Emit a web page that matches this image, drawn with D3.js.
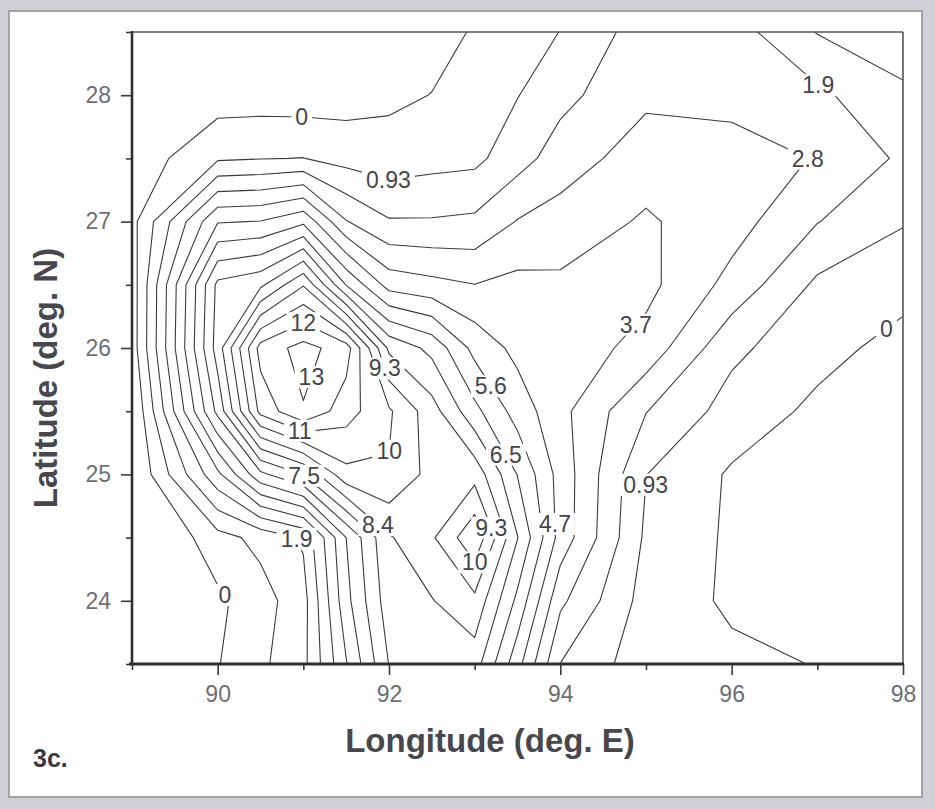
<!DOCTYPE html>
<html>
<head>
<meta charset="utf-8">
<script src="https://cdn.jsdelivr.net/npm/d3@7"></script>
<style>
  html, body { margin: 0; padding: 0; background: #fff; }
  svg { display: block; font-family: "Liberation Sans", Arial, Helvetica, sans-serif; }
</style>
</head>
<body>
<svg id="chart" width="935" height="809"></svg>
<script>
// Grid node positions (finer columns across the two maxima)
const lons = [89, 90, 90.5, 91, 91.5, 92, 92.5, 93, 93.5, 94, 95, 96, 97, 98];
const lats = [28.5, 28, 27.5, 27, 26.5, 26, 25.5, 25, 24.5, 24, 23.5];

// Gridded field, one row per latitude (north to south), one value per longitude
const lat28_5 = [-1.5, -1.4, -1.3, -1.2, -1.0, -0.8, -0.35, 0.08, 0.5, 0.95, 2.35, 2.29, 0.89, 0.5];
const lat28_0 = [-1.0, -0.46, -0.45, -0.5, -0.4, -0.2, 0.02, 0.15, 0.9, 1.6, 2.6, 2.5, 2.07, 1.07];
const lat27_5 = [-0.6, 0.8, 0.9, 0.95, 0.6, 0.42, 0.6, 0.7, 1.5, 2.3, 3.3, 3.2, 2.75, 1.7];
const lat27_0 = [-0.3, 4.6, 4.7, 5.4, 2.85, 1.95, 1.95, 2.05, 2.85, 3.2, 3.85, 3.2, 1.9, 1.0];
const lat26_5 = [-0.5, 7.7, 8.2, 10.2, 6.5, 4.3, 4.0, 3.75, 4.0, 3.9, 4.0, 2.5, 0.75, 0.3];
const lat26_0 = [-0.5, 7.9, 12.5, 13.4, 12.6, 8.2, 7.2, 5.3, 4.4, 4.3, 3.4, 1.15, 0.3, -0.3];
const lat25_5 = [-1.0, 6.8, 11.5, 13.0, 11.6, 10.4, 8.8, 6.8, 5.2, 4.0, 1.9, 0.55, -0.2, -0.5];
const lat25_0 = [-1.0, 3.5, 6.3, 7.5, 10.0, 10.2, 9.0, 9.0, 6.5, 4.3, 0.95, -0.12, -0.5, -0.7];
const lat24_5 = [-1.5, 0.6, 1.2, 2.0, 5.6, 8.3, 9.2, 11.0, 7.5, 4.3, 0.76, -0.15, -0.6, -0.8];
const lat24_0 = [-2.0, -0.2, 0.55, 1.5, 5.3, 8.0, 8.35, 9.1, 6.3, 3.0, 0.55, -0.15, -0.4, -0.6];
const lat23_5 = [-2.2, -0.05, 0.75, 1.6, 4.6, 7.5, 8.0, 7.9, 5.0, 1.85, 0.39, 0.2, -0.03, -0.3];

// Contour levels
const levels = [0, 0.9333, 1.8667, 2.8, 3.7333, 4.6667, 5.6, 6.5333, 7.4667,
                8.4, 9.3333, 10.2667, 11.2, 12.1333, 13.0667];

// Axis ticks
const xMajor = [90, 92, 94, 96, 98];
const xMinor = [89, 91, 93, 95, 97];
const yMajor = [24, 25, 26, 27, 28];
const yMinor = [23.5, 24.5, 25.5, 26.5, 27.5, 28.5];

// Where each contour label sits (level index, lon, lat)
const labelLevel = [0, 1, 2, 3, 0, 4, 13, 10, 6, 14, 12, 11, 7, 8, 1, 9, 10, 5, 2, 11, 0];
const labelLon = [90.98, 91.98, 97.01, 97.03, 97.67, 94.99, 91.0, 91.99, 93.33, 91.19,
                  90.96, 92.16, 93.45, 91.02, 94.99, 91.88, 93.31, 93.94, 91.02, 92.97, 90.17];
const labelLat = [27.82, 27.3, 28.08, 27.52, 26.28, 26.12, 26.28, 25.85, 25.76, 25.75,
                  25.35, 25.18, 25.19, 25.0, 24.92, 24.61, 24.61, 24.61, 24.52, 24.22, 24.09];

const W = 935, H = 809;
const plot = { left: 132, right: 903, top: 32, bottom: 664 };

const svg = d3.select("#chart");

// page frame
svg.append("rect").attr("x", 0).attr("y", 0).attr("width", W).attr("height", H)
  .attr("fill", "#cfcfd6");
svg.append("rect").attr("x", 9).attr("y", 11).attr("width", 913).attr("height", 786)
  .attr("fill", "#ffffff").attr("stroke", "#8d8d94").attr("stroke-width", 1.5);

const x = d3.scaleLinear().domain([89, 98]).range([plot.left, plot.right]);
const y = d3.scaleLinear().domain([23.5, 28.5]).range([plot.bottom, plot.top]);

const nx = lons.length, ny = lats.length;
// grid index space -> lon/lat (node i sits at i + 0.5)
const gridLon = d3.scaleLinear().domain(lons.map((_, i) => i + 0.5)).range(lons);
const gridLat = d3.scaleLinear().domain(lats.map((_, i) => i + 0.5)).range(lats);

const rows = [lat28_5, lat28_0, lat27_5, lat27_0, lat26_5, lat26_0, lat25_5, lat25_0, lat24_5, lat24_0, lat23_5];
const values = [].concat(...rows);

const contours = d3.contours().size([nx, ny]).smooth(true).thresholds(levels)(values);

const toPx = p => [x(gridLon(p[0])), y(gridLat(p[1]))];
const projection = d3.geoTransform({
  point(px, py) { const q = toPx([px, py]); this.stream.point(q[0], q[1]); }
});
const path = d3.geoPath(projection);

svg.append("defs").append("clipPath").attr("id", "plotClip")
  .append("rect").attr("x", plot.left).attr("y", plot.top)
  .attr("width", plot.right - plot.left).attr("height", plot.bottom - plot.top);

const gContours = svg.append("g").attr("clip-path", "url(#plotClip)");
gContours.selectAll("path").data(contours).join("path")
  .attr("d", path)
  .attr("fill", "none")
  .attr("stroke", "#3a3a3e")
  .attr("stroke-width", 1.1)
  .attr("stroke-linejoin", "round");

// contour labels, placed on the nearest point of their own isoline
const fmt = d3.format(".2~r");
const inside = p => p[0] >= plot.left - 0.5 && p[0] <= plot.right + 0.5 &&
                    p[1] >= plot.top - 0.5 && p[1] <= plot.bottom + 0.5;
function nearestOnLevel(k, tx, ty) {
  let best = [tx, ty], bd = Infinity;
  contours[k].coordinates.forEach(poly => poly.forEach(ring => {
    for (let i = 0; i < ring.length - 1; i++) {
      const a = toPx(ring[i]), b = toPx(ring[i + 1]);
      if (!inside(a) || !inside(b)) continue;
      const dx = b[0] - a[0], dy = b[1] - a[1];
      const L2 = dx * dx + dy * dy;
      let t = L2 ? ((tx - a[0]) * dx + (ty - a[1]) * dy) / L2 : 0;
      t = Math.max(0, Math.min(1, t));
      const qx = a[0] + t * dx, qy = a[1] + t * dy;
      const d = (qx - tx) ** 2 + (qy - ty) ** 2;
      if (d < bd) { bd = d; best = [qx, qy]; }
    }
  }));
  return best;
}

const gLabels = svg.append("g");
labelLevel.forEach((k, i) => {
  const p = nearestOnLevel(k, x(labelLon[i]), y(labelLat[i]));
  const g = gLabels.append("g").attr("transform", `translate(${p[0]},${p[1]})`);
  const bg = g.append("rect").attr("fill", "#fff");
  const t = g.append("text")
    .attr("text-anchor", "middle").attr("dy", "0.36em")
    .attr("font-size", 23).attr("fill", "#45454a")
    .text(fmt(levels[k]));
  const bb = t.node().getBBox();
  bg.attr("x", bb.x - 4).attr("y", bb.y + 2).attr("width", bb.width + 8).attr("height", bb.height - 4);
});

// plot frame: top and right borders
svg.append("line").attr("x1", plot.left).attr("x2", plot.right).attr("y1", plot.top).attr("y2", plot.top)
  .attr("stroke", "#55555a").attr("stroke-width", 1.6);
svg.append("line").attr("x1", plot.right).attr("x2", plot.right).attr("y1", plot.top).attr("y2", plot.bottom)
  .attr("stroke", "#55555a").attr("stroke-width", 1.6);

// axes
function styleAxis(g) {
  g.select(".domain").remove();
  g.selectAll(".tick line").attr("stroke", "#3a3a3e").attr("stroke-width", 1.6);
  g.selectAll(".tick text").attr("fill", "#6e6e74").attr("font-size", 23)
    .attr("font-family", "\"Liberation Sans\", Arial, sans-serif");
}
svg.append("g").attr("transform", `translate(0,${plot.bottom})`)
  .call(d3.axisBottom(x).tickValues(xMajor).tickSize(11).tickPadding(11).tickFormat(d3.format("d")))
  .call(styleAxis);
svg.append("g").attr("transform", `translate(0,${plot.bottom})`)
  .call(d3.axisBottom(x).tickValues(xMinor).tickSize(6).tickFormat(""))
  .call(styleAxis);
svg.append("g").attr("transform", `translate(${plot.left},0)`)
  .call(d3.axisLeft(y).tickValues(yMajor).tickSize(11).tickPadding(10).tickFormat(d3.format("d")))
  .call(styleAxis);
svg.append("g").attr("transform", `translate(${plot.left},0)`)
  .call(d3.axisLeft(y).tickValues(yMinor).tickSize(6).tickFormat(""))
  .call(styleAxis);

// heavy axis lines
svg.append("line").attr("x1", plot.left).attr("x2", plot.left).attr("y1", plot.top - 1).attr("y2", plot.bottom + 1)
  .attr("stroke", "#2e2e33").attr("stroke-width", 2.6);
svg.append("line").attr("x1", plot.left - 3).attr("x2", plot.right + 1).attr("y1", plot.bottom).attr("y2", plot.bottom)
  .attr("stroke", "#2e2e33").attr("stroke-width", 2.8);

// titles
svg.append("text").attr("x", 490).attr("y", 752).attr("text-anchor", "middle")
  .attr("font-size", 33).attr("font-weight", "bold").attr("fill", "#47474d")
  .text("Longitude (deg. E)");
svg.append("text").attr("transform", "translate(57,378) rotate(-90)").attr("text-anchor", "middle")
  .attr("font-size", 33).attr("font-weight", "bold").attr("fill", "#47474d")
  .text("Latitude (deg. N)");
svg.append("text").attr("x", 33).attr("y", 767)
  .attr("font-size", 25).attr("font-weight", "bold").attr("fill", "#3a3a40")
  .text("3c.");
</script>
</body>
</html>
